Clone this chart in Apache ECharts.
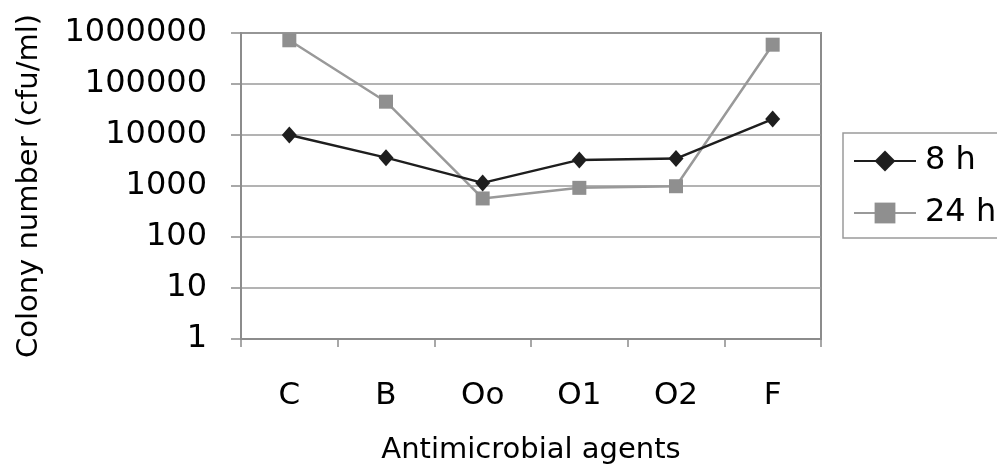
<!DOCTYPE html>
<html>
<head>
<meta charset="utf-8">
<script src="https://cdn.jsdelivr.net/npm/echarts@6/dist/echarts.min.js"></script>
<style>
html,body{margin:0;padding:0;background:#fff;}
#c{width:997px;height:472px;}
</style>
</head>
<body>
<div id="c"></div>
<script>
var categories = ['C', 'B', 'Oo', 'O1', 'O2', 'F'];
var hours8 = [10000, 3600, 1150, 3250, 3450, 20500];
var hours24 = [720000, 45000, 570, 920, 990, 590000];
var yTicks = [1, 10, 100, 1000, 10000, 100000, 1000000];

var FONT = 'DejaVu Sans';
var chart = echarts.init(document.getElementById('c'));
chart.setOption({
  animation: false,
  backgroundColor: '#fff',
  textStyle: { fontFamily: FONT },
  grid: {
    left: 241, right: 176, top: 33, bottom: 133,
    outerBoundsMode: 'none',
    containLabel: false,
    show: true, borderColor: '#8c8c8c', borderWidth: 2, backgroundColor: 'transparent'
  },
  legend: {
    left: 843, top: 133,
    orient: 'vertical',
    data: ['8 h', '24 h'],
    itemWidth: 62, itemHeight: 26, itemGap: 20,
    padding: [12, 60, 9, 10],
    borderColor: '#9a9a9a', borderWidth: 1.5, borderRadius: 0,
    textStyle: { fontFamily: FONT, fontSize: 32, color: '#000', padding: [0, 0, 0, 4] }
  },
  xAxis: {
    type: 'category',
    data: categories,
    boundaryGap: true,
    name: 'Antimicrobial agents',
    nameLocation: 'middle',
    nameGap: 97,
    nameTextStyle: { fontFamily: FONT, fontSize: 29, color: '#000' },
    axisLine: { lineStyle: { color: '#8c8c8c', width: 2 } },
    axisTick: { show: true, length: 8, lineStyle: { color: '#8c8c8c', width: 1.5 } },
    axisLabel: { fontFamily: FONT, fontSize: 31, color: '#000', margin: 41 },
    splitLine: { show: false }
  },
  yAxis: {
    type: 'log',
    logBase: 10,
    min: yTicks[0],
    max: yTicks[yTicks.length - 1],
    name: 'Colony number (cfu/ml)',
    nameLocation: 'middle',
    nameGap: 197,
    nameTextStyle: { fontFamily: FONT, fontSize: 29, color: '#000' },
    axisLine: { show: true, lineStyle: { color: '#8c8c8c', width: 2 } },
    axisTick: { show: true, inside: false, length: 10, lineStyle: { color: '#8c8c8c', width: 1.5 } },
    axisLabel: {
      fontFamily: FONT, fontSize: 32, color: '#000', margin: 34,
      formatter: function (v) { return String(Math.round(v)); }
    },
    splitLine: { show: true, lineStyle: { color: '#9a9a9a', width: 1.5 } },
    minorTick: { show: false }
  },
  series: [
    {
      name: '8 h', type: 'line', data: hours8,
      symbol: 'diamond', symbolSize: [15, 17],
      lineStyle: { color: '#1e1e1e', width: 2.5 },
      itemStyle: { color: '#1e1e1e' },
      z: 3
    },
    {
      name: '24 h', type: 'line', data: hours24,
      symbol: 'rect', symbolSize: 14,
      lineStyle: { color: '#999999', width: 2.5 },
      itemStyle: { color: '#8f8f8f' },
      z: 2
    }
  ]
});
</script>
</body>
</html>
